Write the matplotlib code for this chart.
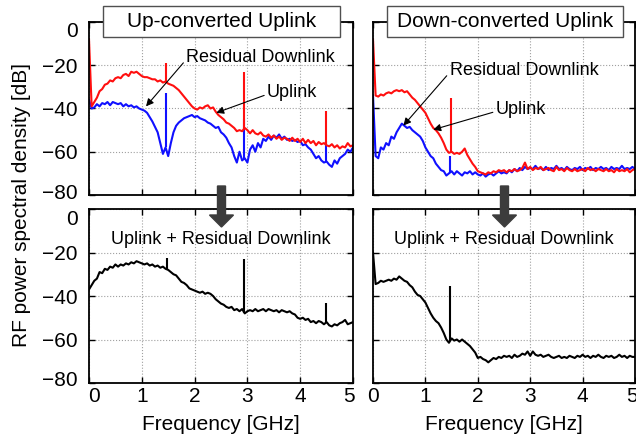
import numpy as np
import matplotlib
matplotlib.use('Agg')
import matplotlib.pyplot as plt
import matplotlib.transforms as mtransforms
from matplotlib.patches import Rectangle, FancyArrow

plt.rcParams['font.family'] = ['Liberation Sans', 'DejaVu Sans']

# frequency grid [GHz], one value every 50 MHz
freq = np.round(np.arange(0, 5.001, 0.05), 2)

# Up-converted uplink panel (top left)
up_residual = [
    -8, -39, -37, -35, -32, -31, -29, -28.5, -27, -27.5,
    -26, -25.5, -26, -24.5, -24, -25, -23, -23.5, -23, -24,
    -25, -25.5, -25.5, -26, -26.5, -26.5, -27.5, -27, -28, -27.5,
    -28.5, -29, -29.5, -30.5, -31.5, -33, -34.5, -36, -37.5, -39,
    -40, -40.5, -39.5, -40, -39, -38.5, -40, -39.5, -41.5, -43,
    -44, -45, -46.5, -47, -48, -49, -50.5, -50, -50.5, -49,
    -50, -51.5, -50, -51.5, -52, -51, -52.5, -53, -52, -53.5,
    -52.5, -54, -53, -54.5, -53.5, -54, -55, -53.5, -55, -54,
    -55.5, -54, -56, -54.5, -56, -55, -57, -55.5, -56.5, -56,
    -57, -57.5, -56.5, -58, -57, -58.5, -57.5, -58, -56, -57.5,
    -57]
up_uplink = [
    -36, -40, -39.5, -38, -39, -37.5, -38, -37, -38.5, -37,
    -37.5, -38, -37.5, -39, -38, -39, -38.5, -39.5, -39, -40,
    -40.5, -41, -42, -44, -46, -48.5, -51, -56, -61, -58,
    -62, -56, -51, -48, -46.5, -45.5, -44.5, -44, -43.5, -43,
    -44, -43.5, -44.5, -45, -45.5, -46.5, -47, -48, -49, -48.5,
    -51, -52, -53.5, -56, -58, -62, -65, -60, -64, -63,
    -65, -59, -57, -60, -56, -58, -54, -55, -53, -54.5,
    -52.5, -53.5, -52, -54, -53, -54.5, -54, -55, -54.5, -55.5,
    -55, -57, -56.5, -58, -59, -61, -63, -62, -64, -65,
    -64.5, -66, -67, -64, -65.5, -63, -62, -61, -59, -60,
    -58]
up_sum = [
    -37, -35, -33, -32, -29, -29.5, -27.5, -28, -26.5, -27,
    -25.5, -26.5, -25.5, -26, -25, -25.5, -24.5, -25, -24, -24.5,
    -25, -25.5, -25, -26, -25.5, -26.5, -26, -27, -26.5, -27.5,
    -28, -29, -30, -30.5, -32, -33.5, -34, -35, -36.5, -37,
    -37.5, -38, -38.5, -38, -39, -38.5, -39, -40, -41.5, -42.5,
    -43.5, -44, -45, -45.5, -45, -46.5, -46, -47, -46, -48,
    -47, -46.5, -47, -46, -47, -46.5, -46, -47, -46, -46.5,
    -47, -46.5, -47.5, -46.5, -47, -47.5, -47, -48, -48.5, -50,
    -50.5, -50, -51, -50.5, -52, -51.5, -52.5, -51.5, -52, -53,
    -52, -53.5, -54, -53, -53.5, -52.5, -52, -51, -53, -52.5,
    -52]

# Down-converted uplink panel (top right)
down_residual = [
    -8, -34, -34.5, -33.5, -34, -33, -32.5, -33, -32, -31.5,
    -32, -31.5, -32.5, -32, -33.5, -35, -36, -37.5, -39, -40.5,
    -42, -44.5, -47, -49, -50, -51.5, -53.5, -56, -59, -60.5,
    -60, -61, -60.5, -61, -60, -58.5, -61.5, -63.5, -65.5, -67,
    -69, -69.5, -70, -70.5, -69.5, -70, -69, -69.5, -68.5, -69,
    -68.5, -69.5, -68.5, -69, -68, -69, -68.5, -67.5, -65, -68,
    -67, -68.5, -67.5, -68, -67, -68.5, -68, -67.5, -68.5, -69,
    -67, -68.5, -68, -69, -67.5, -68.5, -69, -68, -69, -68.5,
    -68, -69, -67.5, -68.5, -68, -69, -68, -68.5, -69, -68,
    -69, -68.5, -69.5, -68, -69, -68.5, -69, -68, -69.5, -68.5,
    -68]
down_uplink = [
    -34, -62, -63, -58, -59, -56, -57, -53, -54, -51,
    -49, -47, -48, -49, -48.5, -50, -51, -52, -53, -55,
    -58, -60, -62, -63, -65.5, -67, -68.5, -69, -71, -70,
    -69, -70.5, -69, -70, -71, -69.5, -70, -69, -70.5, -69.5,
    -70.5, -71, -70, -71.5, -70.5, -70, -71, -70, -69, -70,
    -69.5, -70, -68.5, -69.5, -68, -69, -67.5, -68.5, -67, -68,
    -67.5, -68, -66.5, -68, -67.5, -68.5, -67, -68.5, -67.5, -68,
    -66.5, -68, -67.5, -68.5, -67, -68, -68.5, -67.5, -68, -67,
    -68.5, -67.5, -68, -67, -68.5, -67.5, -68, -67, -68, -67.5,
    -68.5, -67, -68, -67.5, -68, -66.5, -68, -67.5, -68, -67,
    -68]
down_sum = [
    -20, -34.5, -34, -33, -33.5, -33, -32.5, -33, -32, -32.5,
    -31, -32, -33, -33.5, -35, -36, -38, -39.5, -40, -41.5,
    -43, -45.5, -48, -50, -51.5, -52.5, -54.5, -57, -60, -61.5,
    -59.5, -60.5, -60, -61, -60, -61, -62, -63, -64.5, -66,
    -68.5, -68, -69, -69.5, -70.5, -69.5, -68.5, -69, -68, -68.5,
    -67.5, -68, -67.5, -68.5, -67, -68, -67.5, -66.5, -67, -65.5,
    -67.5, -65.5, -67, -67.5, -67, -68, -67.5, -67, -68, -68.5,
    -68, -67.5, -68.5, -68, -68.5, -67.5, -68, -68.5, -67.5, -68,
    -67, -68, -67.5, -68.5, -67.5, -68, -67, -68, -68.5, -67.5,
    -68, -67.5, -68.5, -68, -67, -68, -67.5, -68.5, -67.5, -68,
    -68]

# narrow tones: frequency and peak level
up_residual_tone_f = [1.45, 2.93, 4.48]
up_residual_tone_db = [-19, -23, -41]
up_uplink_tone_f = [1.45, 2.93, 4.48]
up_uplink_tone_db = [-33, -45, -55]
up_sum_tone_f = [1.47, 2.94, 4.49]
up_sum_tone_db = [-22.5, -23, -43]
down_residual_tone_f = [1.48]
down_residual_tone_db = [-35]
down_uplink_tone_f = [1.47]
down_uplink_tone_db = [-62]
down_sum_tone_f = [1.47]
down_sum_tone_db = [-35.5]


def draw(ax, values, tone_f, tone_db, color):
    ax.plot(freq, values, color=color, lw=1.5)
    base = np.interp(tone_f, freq, values)
    ax.vlines(tone_f, base, tone_db, color=color, lw=1.5)


def shift(label, dx, dy):
    # nudge one tick label by dx, dy pixels
    off = mtransforms.ScaledTranslation(dx / 100, dy / 100, fig.dpi_scale_trans)
    label.set_transform(label.get_transform() + off)


def style(ax, bottom, left):
    ax.set_xlim(0, 5)
    ax.set_ylim(-80, 0)
    ax.set_xticks(range(6))
    ax.set_yticks(range(-80, 1, 20))
    ax.grid(True, ls=':', color='#a0a0a0', lw=0.8)
    ax.tick_params(direction='in', top=True, right=True, length=4, width=1,
                   labelsize=15, pad=8)
    ax.tick_params(axis='x', pad=3)
    for s in ax.spines.values():
        s.set_linewidth(1.3)
    if not bottom:
        ax.set_xticklabels([])
    else:
        ax.set_xlabel('Frequency [GHz]', fontsize=15, labelpad=6)
        xl = ax.get_xticklabels()
        if left:
            shift(xl[0], 5, 0)
            shift(xl[-1], -4, 0)
        else:
            shift(xl[-1], -3, 0)
    if not left:
        ax.set_yticklabels([])
    else:
        yl = ax.get_yticklabels()
        shift(yl[0], 0, 4)
        shift(yl[-1], 0, -8)


fig = plt.figure(figsize=(6.36, 4.43), dpi=100)
W, H = 636.0, 443.0

ax_ul = fig.add_axes([89 / W, 1 - 195 / H, 264 / W, 173 / H])
ax_ll = fig.add_axes([89 / W, 1 - 383 / H, 264 / W, 174 / H])
ax_ur = fig.add_axes([373 / W, 1 - 195 / H, 262 / W, 173 / H])
ax_lr = fig.add_axes([373 / W, 1 - 383 / H, 262 / W, 174 / H])

draw(ax_ul, up_uplink, up_uplink_tone_f, up_uplink_tone_db, '#1010ff')
draw(ax_ul, up_residual, up_residual_tone_f, up_residual_tone_db, '#ff0f0f')
draw(ax_ll, up_sum, up_sum_tone_f, up_sum_tone_db, 'black')
draw(ax_ur, down_uplink, down_uplink_tone_f, down_uplink_tone_db, '#1010ff')
draw(ax_ur, down_residual, down_residual_tone_f, down_residual_tone_db, '#ff0f0f')
draw(ax_lr, down_sum, down_sum_tone_f, down_sum_tone_db, 'black')

style(ax_ul, False, True)
style(ax_ll, True, True)
style(ax_ur, False, False)
style(ax_lr, True, False)

arrow = dict(arrowstyle='-|>', color='black', lw=0.8, mutation_scale=11,
             shrinkA=0, shrinkB=0, relpos=(0, 0.4))
ax_ul.annotate('Residual Downlink', xy=(1.08, -39), xytext=(1.84, -16.6),
               fontsize=13, ha='left', va='center', arrowprops=arrow)
ax_ul.annotate('Uplink', xy=(2.41, -42), xytext=(3.37, -32.7),
               fontsize=13, ha='left', va='center', arrowprops=arrow)
ax_ur.annotate('Residual Downlink', xy=(0.58, -47.9), xytext=(1.46, -22.6),
               fontsize=13, ha='left', va='center', arrowprops=arrow)
ax_ur.annotate('Uplink', xy=(1.15, -49.8), xytext=(2.34, -40.6),
               fontsize=13, ha='left', va='center', arrowprops=arrow)

ax_ll.text(2.5, -14, 'Uplink + Residual Downlink', fontsize=13,
           ha='center', va='center')
ax_lr.text(2.5, -14, 'Uplink + Residual Downlink', fontsize=13,
           ha='center', va='center')

# boxed titles over the top panels
for x0, x1, label in [(103, 340, 'Up-converted Uplink'),
                      (387, 623, 'Down-converted Uplink')]:
    fig.patches.append(Rectangle((x0 / W, 1 - 37 / H), (x1 - x0) / W, 31 / H,
                                 transform=fig.transFigure, fc='white',
                                 ec='#505050', lw=1, zorder=5))
    fig.text((x0 + x1) / 2 / W, 1 - 21.5 / H, label, fontsize=15,
             ha='center', va='center', zorder=6)

# big arrows between top and bottom panels
for xc in [221.5, 504.5]:
    fig.patches.append(FancyArrow(xc / 100, (H - 186) / 100, 0, -0.41,
                                  width=0.08, head_width=0.24, head_length=0.12,
                                  length_includes_head=True,
                                  transform=fig.dpi_scale_trans,
                                  color='#3c3c3c', zorder=7))

fig.text(22 / W, 1 - 205 / H, 'RF power spectral density [dB]', fontsize=15,
         rotation=90, ha='center', va='center')

fig.savefig('out.png', dpi=100)
